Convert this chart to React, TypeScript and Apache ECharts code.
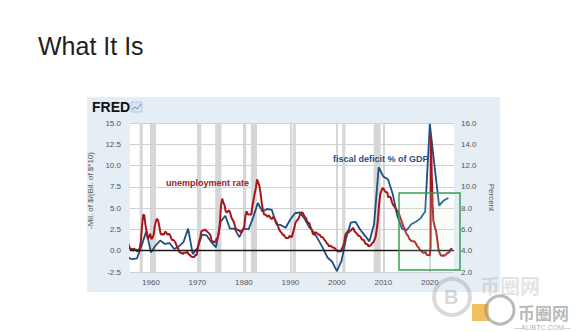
import React, { useEffect, useRef } from "react";
import * as echarts from "echarts";

// Federal deficit as % of GDP (annual, positive = deficit), plotted on left axis
const deficitStartYear = 1955;
const deficitPctGDP = [
  -0.8, -1.0, -0.9, 0.6, 2.3, -0.2, 0.6, 1.2, 0.8, 0.9,
  0.2, 0.5, 1.0, 2.6, -0.4, 0.3, 1.9, 1.8, 1.0, 0.4,
  3.4, 4.1, 2.6, 2.6, 1.6, 2.6, 2.5, 3.9, 5.6, 4.6,
  4.9, 4.8, 3.1, 3.0, 2.7, 3.7, 4.4, 4.5, 3.8, 2.8,
  2.2, 1.3, 0.3, -0.8, -1.3, -2.4, -1.2, 1.5, 3.3, 3.4,
  2.5, 1.8, 1.1, 3.1, 9.8, 8.7, 8.4, 6.7, 4.1, 2.6,
  2.4, 3.1, 3.4, 3.8, 4.6, 14.9, 10.0, 5.3, 5.9, 6.2,
];

// Unemployment rate (%), plotted on right axis
const unrateQuarterly1955to2019 = [
  4.7, 4.4, 4.1, 4.2, 4.0, 4.2, 4.1, 4.1, 3.9, 4.1, 4.2, 4.9,
  6.3, 7.4, 7.3, 6.4, 5.8, 5.1, 5.3, 5.6, 5.1, 5.2, 5.5, 6.3,
  6.8, 7.0, 6.8, 6.2, 5.6, 5.5, 5.6, 5.5, 5.8, 5.7, 5.5, 5.6,
  5.5, 5.2, 5.0, 5.0, 4.9, 4.7, 4.4, 4.2, 3.9, 3.8, 3.8, 3.7,
  3.8, 3.8, 3.8, 3.9, 3.7, 3.6, 3.5, 3.4, 3.4, 3.4, 3.6, 3.6,
  4.2, 4.8, 5.2, 5.8, 5.9, 5.9, 6.0, 5.9, 5.8, 5.7, 5.6, 5.4,
  4.9, 4.9, 4.8, 4.8, 5.1, 5.2, 5.6, 6.6, 8.3, 8.9, 8.5, 8.3,
  7.7, 7.6, 7.7, 7.8, 7.5, 7.1, 6.9, 6.7, 6.3, 6.0, 6.0, 5.9,
  5.9, 5.7, 5.9, 6.0, 6.3, 7.3, 7.7, 7.4, 7.4, 7.4, 7.4, 8.2,
  8.8, 9.4, 9.9, 10.7, 10.4, 10.1, 9.4, 8.5, 7.9, 7.4, 7.4, 7.3,
  7.2, 7.3, 7.2, 7.0, 7.0, 7.2, 7.0, 6.8, 6.6, 6.3, 6.0, 5.8,
  5.7, 5.5, 5.5, 5.3, 5.2, 5.2, 5.2, 5.4, 5.3, 5.3, 5.7, 6.1,
  6.6, 6.8, 6.9, 7.1, 7.4, 7.6, 7.6, 7.4, 7.2, 7.1, 6.8, 6.6,
  6.6, 6.2, 6.0, 5.6, 5.5, 5.7, 5.7, 5.6, 5.5, 5.5, 5.3, 5.3,
  5.2, 5.0, 4.9, 4.7, 4.6, 4.4, 4.5, 4.4, 4.3, 4.3, 4.2, 4.1,
  4.0, 3.9, 4.0, 3.9, 4.2, 4.4, 4.8, 5.5, 5.7, 5.8, 5.7, 5.9,
  5.9, 6.1, 6.1, 5.8, 5.7, 5.6, 5.4, 5.4, 5.3, 5.1, 5.0, 5.0,
  4.7, 4.6, 4.6, 4.4, 4.5, 4.5, 4.7, 4.8, 5.0, 5.3, 6.0, 6.9,
  8.3, 9.3, 9.6, 9.9, 9.8, 9.6, 9.5, 9.5, 9.0, 9.1, 9.0, 8.6,
  8.3, 8.2, 8.0, 7.8, 7.7, 7.5, 7.2, 6.9, 6.6, 6.2, 6.1, 5.7,
  5.5, 5.4, 5.1, 5.0, 4.9, 4.9, 4.9, 4.8, 4.6, 4.4, 4.3, 4.1,
  4.0, 3.9, 3.8, 3.8, 3.9, 3.6, 3.6, 3.6,
];
const unrateMonthly2020 = [3.5, 3.5, 4.4, 14.8, 13.2, 11.0, 10.2, 8.4, 7.8, 6.8, 6.7, 6.7];
const unrateQuarterly2021to2024 = [
  6.2, 5.9, 5.1, 4.2, 3.8, 3.6, 3.5, 3.6, 3.5, 3.6, 3.7, 3.8, 3.8, 4.0, 4.2, 4.1,
];

// NBER recessions (decimal years)
const recessionStarts = [1957.58, 1960.25, 1969.92, 1973.83, 1980.0, 1981.5, 1990.5, 2001.17, 2007.92, 2020.08];
const recessionEnds = [1958.25, 1961.08, 1970.83, 1975.17, 1980.5, 1982.83, 1991.17, 2001.83, 2009.42, 2020.25];

const decadeTicks = [1960, 1970, 1980, 1990, 2000, 2010, 2020];

const titleText = "What It Is";
const leftAxisName = "-Mil. of $/(Bil. of $*10)";
const rightAxisName = "Percent";
const unemploymentLabel = "unemployment rate";
const deficitLabel = "fiscal deficit % of GDP";

export default function App() {
  const ref = useRef<HTMLDivElement>(null);

  useEffect(() => {
    if (!ref.current) return;
    const chart = echarts.init(ref.current, undefined, { renderer: "svg" });

    const deficitData = deficitPctGDP.map((v, i) => [deficitStartYear + i, v]);
    const unrateData: number[][] = [];
    unrateQuarterly1955to2019.forEach((v, i) => {
      const y = 1955 + Math.floor(i / 4);
      const q = i % 4;
      unrateData.push([y + (3 * q + 1) / 12, v]);
    });
    unrateMonthly2020.forEach((v, m) => unrateData.push([2020 + m / 12, v]));
    unrateQuarterly2021to2024.forEach((v, i) => {
      const y = 2021 + Math.floor(i / 4);
      const q = i % 4;
      unrateData.push([y + (3 * q + 1) / 12, v]);
    });

    const recessionAreas = recessionStarts.map((s, i) => [{ xAxis: s }, { xAxis: recessionEnds[i] }]);

    const font = "Liberation Sans, Arial, sans-serif";

    chart.setOption({
      animation: false,
      backgroundColor: "#ffffff",
      textStyle: { fontFamily: font },
      grid: {
        left: 130,
        right: 134,
        top: 123,
        bottom: 60,
        show: true,
        backgroundColor: "#ffffff",
        borderWidth: 0,
      },
      xAxis: {
        type: "value",
        min: 1955.5,
        max: 2025.2,
        axisLine: { show: false },
        axisTick: { show: false, customValues: decadeTicks },
        axisLabel: {
          customValues: decadeTicks,
          color: "#555",
          fontSize: 8,
          margin: 6,
          formatter: (v: number) => String(Math.round(v)),
        },
        splitLine: { show: true, lineStyle: { color: "#c9c9c9", width: 1.5 } },
      },
      yAxis: [
        {
          type: "value",
          min: -2.5,
          max: 15,
          interval: 2.5,
          name: leftAxisName,
          nameLocation: "middle",
          nameRotate: 90,
          nameGap: 29,
          nameTextStyle: { color: "#555", fontSize: 8, padding: [0, 0, 0, 14] },
          axisLine: { show: false },
          axisTick: { show: false },
          axisLabel: { color: "#555", fontSize: 8, margin: 9, formatter: (v: number) => v.toFixed(1) },
          splitLine: { show: true, lineStyle: { color: "#d0d0d0", width: 1 } },
        },
        {
          type: "value",
          min: 2,
          max: 16,
          interval: 2,
          position: "right",
          name: rightAxisName,
          nameLocation: "middle",
          nameRotate: -90,
          nameGap: 31,
          nameTextStyle: { color: "#555", fontSize: 8 },
          axisLine: { show: false },
          axisTick: { show: false },
          axisLabel: { color: "#555", fontSize: 8, margin: 7, formatter: (v: number) => v.toFixed(1) },
          splitLine: { show: false },
        },
      ],
      series: [
        {
          name: "Fiscal deficit % of GDP",
          type: "line",
          yAxisIndex: 0,
          data: deficitData,
          symbol: "none",
          clip: true,
          z: 3,
          lineStyle: { color: "#1d4f80", width: 1.8 },
          markArea: {
            silent: true,
            itemStyle: { color: "#d6d6d6" },
            data: recessionAreas,
          },
          markLine: {
            silent: true,
            symbol: "none",
            label: { show: false },
            lineStyle: { color: "#1a1a1a", width: 1.3, type: "solid" },
            data: [{ yAxis: 0 }],
          },
        },
        {
          name: "Unemployment rate",
          type: "line",
          yAxisIndex: 1,
          data: unrateData,
          symbol: "none",
          clip: true,
          z: 4,
          lineStyle: { color: "#a8161b", width: 2 },
        },
      ],
      graphic: {
        elements: [
          { type: "rect", z: -100, shape: { x: 87, y: 97, width: 413, height: 195 }, style: { fill: "#e5edf5" } },
          {
            type: "text",
            z: 10,
            left: 38,
            top: 33,
            style: { text: titleText, fill: "#1e1e1e", font: `25px ${font}` },
          },
          {
            type: "text",
            z: 10,
            left: 92,
            top: 100,
            style: { text: "FRED", fill: "#111", font: `900 14px ${font}` },
          },
          { type: "rect", z: 10, shape: { x: 131, y: 102, width: 11, height: 10 }, style: { fill: "#d7e5f1", stroke: "#a9c2da", lineWidth: 0.8 } },
          { type: "polyline", z: 11, shape: { points: [[132, 110], [135, 107], [137, 109], [141, 104]] }, style: { stroke: "#5b86b6", lineWidth: 0.9, fill: null } },
          {
            type: "text",
            z: 10,
            left: 166,
            top: 178,
            style: { text: unemploymentLabel, fill: "#9a1b1f", font: `bold 9px ${font}` },
          },
          {
            type: "text",
            z: 10,
            left: 333,
            top: 154,
            style: { text: deficitLabel, fill: "#1f4f86", font: `bold 9px ${font}` },
          },
          {
            type: "rect",
            z: 10,
            shape: { x: 399, y: 193, width: 61, height: 77 },
            style: { fill: "rgba(220,245,225,0.15)", stroke: "#3a9d5a", lineWidth: 1.5 },
          },
          // watermark
          { type: "circle", z: 20, shape: { cx: 452, cy: 297, r: 18 }, style: { fill: "rgba(0,0,0,0)", stroke: "rgba(150,150,150,0.35)", lineWidth: 4 } },
          { type: "text", z: 20, left: 444, top: 287, style: { text: "B", fill: "rgba(150,150,150,0.4)", font: `bold 20px ${font}` } },
          { type: "text", z: 20, left: 480, top: 275, style: { text: "币圈网", fill: "rgba(160,160,160,0.3)", font: `bold 20px Noto Sans CJK SC` } },
          { type: "rect", z: 20, shape: { x: 472, y: 304, width: 17, height: 17 }, style: { fill: "rgba(235,170,40,0.75)" } },
          { type: "circle", z: 21, shape: { cx: 500, cy: 310, r: 14 }, style: { fill: "rgba(255,255,255,0.4)", stroke: "rgba(130,130,130,0.55)", lineWidth: 3 } },
          { type: "text", z: 20, left: 518, top: 304, style: { text: "币圈网", fill: "rgba(140,140,140,0.6)", font: `bold 17px Noto Sans CJK SC` } },
          { type: "text", z: 20, left: 514, top: 324, style: { text: "—ALIBTC.COM—", fill: "rgba(140,140,140,0.7)", font: `7px ${font}` } },
        ],
      },
    });

    return () => chart.dispose();
  }, []);

  return <div ref={ref} style={{ position: "fixed", left: 0, top: 0, width: 588, height: 332 }} />;
}
